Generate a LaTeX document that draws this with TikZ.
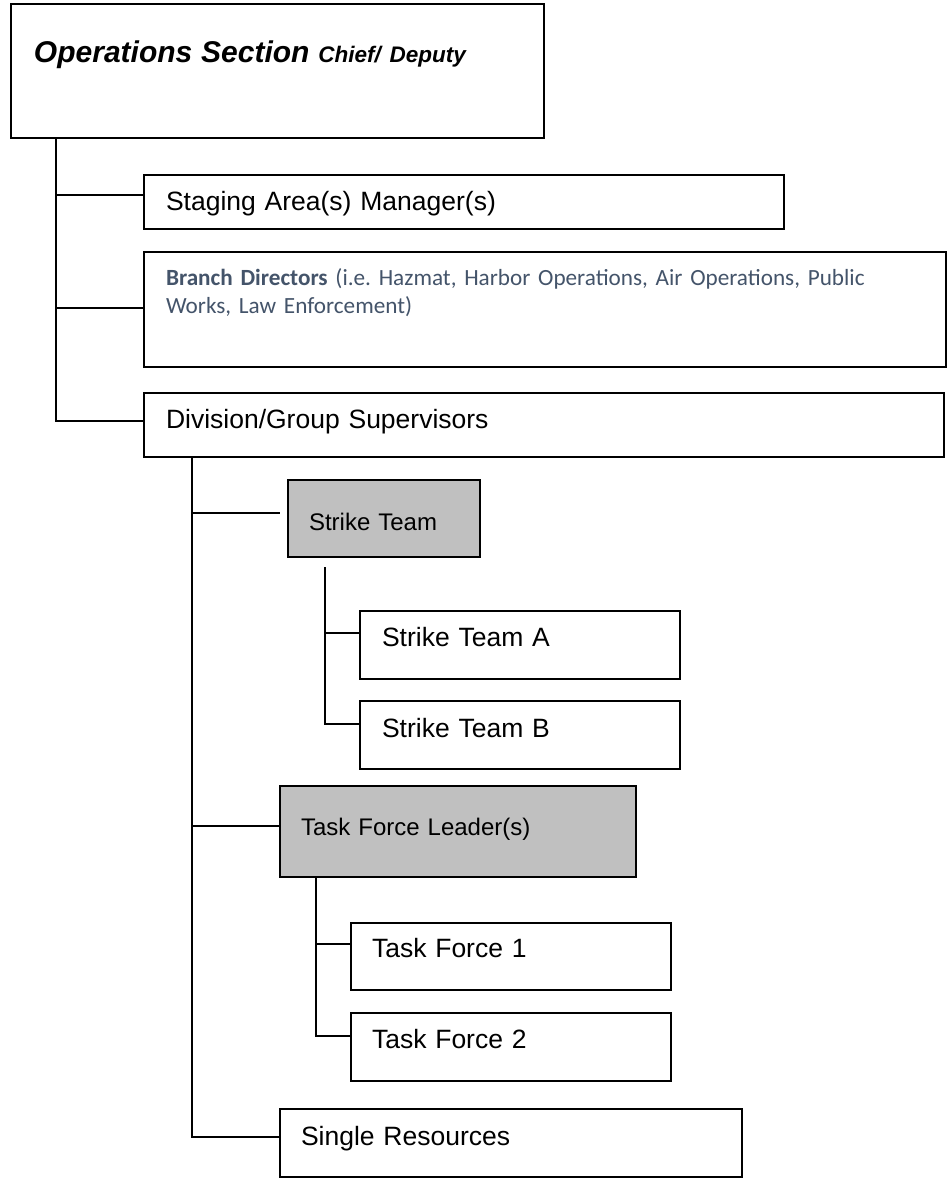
\documentclass[tikz,border=0pt]{standalone}
\usepackage{fontspec}
\setmainfont{Liberation Sans}
\newfontfamily\calibri{Carlito}
\definecolor{boxgrey}{HTML}{C0C0C0}
\definecolor{slate}{HTML}{44546A}
\frenchspacing
\begin{document}
\begin{tikzpicture}[x=1pt,y=-1pt,
  box/.style={draw=black, line width=1.6pt, fill=white, rectangle, anchor=north west,
    outer sep=0pt, inner ysep=0pt, align=left, font=\fontsize{26.5}{30}\selectfont},
  greybox/.style={box, fill=boxgrey, font=\fontsize{24}{28}\selectfont},
  link/.style={draw=black, line width=1.3pt}]
\useasboundingbox (0,0) rectangle (948,1179);

% boxes
\node[box, inner xsep=23pt, text width=487pt, text height=58pt, text depth=76pt] (chief) at (11,4)
  {{\fontsize{30}{34}\selectfont\bfseries\itshape Operations Section} {\fontsize{22.5}{26}\selectfont\bfseries\itshape Chief/ Deputy}};
\node[box, inner xsep=22pt, text width=596pt, text height=35pt, text depth=19pt] (staging) at (144,175)
  {Staging Area(s) Manager(s)};
\node[box, inner xsep=22pt, text width=758pt, text height=33pt, text depth=82pt,
  font=\calibri\fontsize{23.2}{28}\selectfont, text=slate] (branch) at (144,252)
  {\textbf{Branch Directors} (i.e. Hazmat, Harbor Operations, Air Operations, Public\\Works, Law Enforcement)};
\node[box, inner xsep=22pt, text width=756pt, text height=35pt, text depth=29pt] (division) at (144,393)
  {Division/Group Supervisors};
\node[greybox, inner xsep=21pt, text width=150pt, text height=50pt, text depth=27pt] (strike) at (288,480)
  {Strike Team};
\node[box, inner xsep=22pt, text width=276pt, text height=35pt, text depth=33pt] (strikeA) at (360,611)
  {Strike Team A};
\node[box, inner xsep=22pt, text width=276pt, text height=36pt, text depth=32pt] (strikeB) at (360,701)
  {Strike Team B};
\node[greybox, inner xsep=21pt, text width=314pt, text height=49pt, text depth=42pt] (tfl) at (280,786)
  {Task Force Leader(s)};
\node[box, inner xsep=21pt, text width=278pt, text height=34pt, text depth=33pt] (tf1) at (351,923)
  {Task Force 1};
\node[box, inner xsep=21pt, text width=278pt, text height=35pt, text depth=33pt] (tf2) at (351,1013)
  {Task Force 2};
\node[box, inner xsep=21pt, text width=420pt, text height=36pt, text depth=32pt] (single) at (280,1109)
  {Single Resources};

% connectors
\coordinate (spineA) at ([xshift=45pt]chief.south west);
\draw[link] (spineA) |- ([yshift=-20pt]staging.north west);
\draw[link] (spineA) |- ([yshift=-56pt]branch.north west);
\draw[link] (spineA) |- ([yshift=-28pt]division.north west);

\coordinate (spineB) at ([xshift=48pt]division.south west);
\draw[link] (spineB) |- ([xshift=-8pt,yshift=-33pt]strike.north west);
\draw[link] (spineB) |- ([yshift=-40pt]tfl.north west);
\draw[link] (spineB) |- ([yshift=-28pt]single.north west);

\coordinate (spineC) at ([xshift=37pt,yshift=-10pt]strike.south west);
\draw[link] (spineC) |- ([yshift=-22pt]strikeA.north west);
\draw[link] (spineC) |- ([yshift=-23pt]strikeB.north west);

\coordinate (spineD) at ([xshift=36pt]tfl.south west);
\draw[link] (spineD) |- ([yshift=-21pt]tf1.north west);
\draw[link] (spineD) |- ([yshift=-23pt]tf2.north west);
\end{tikzpicture}
\end{document}
